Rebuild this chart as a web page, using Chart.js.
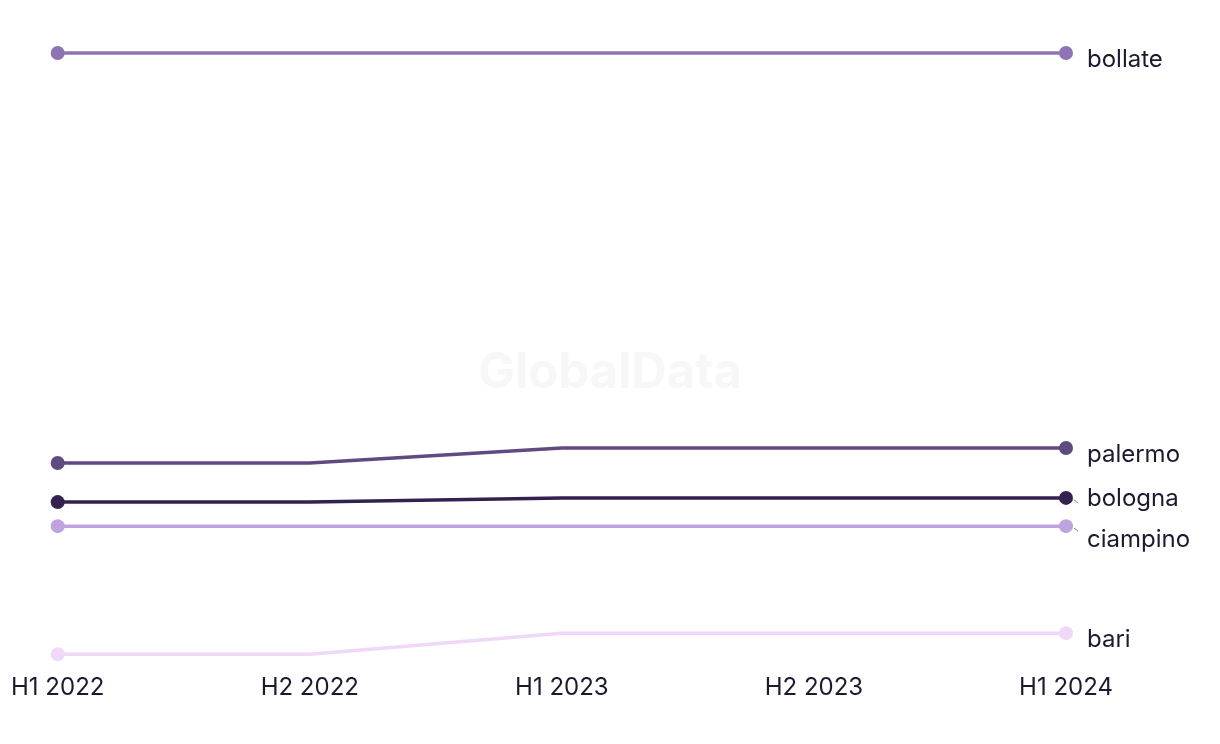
<!DOCTYPE html>
<html>
<head>
<meta charset="utf-8">
<script src="https://cdn.jsdelivr.net/npm/chart.js@4.4.0/dist/chart.umd.min.js"></script>
<style>
html,body{margin:0;padding:0;background:#fff;}
#wrap{width:1220px;height:744px;position:relative;}
</style>
</head>
<body>
<div id="wrap"><canvas id="c" width="1220" height="744"></canvas></div>
<script>
const categories = ["H1 2022", "H2 2022", "H1 2023", "H2 2023", "H1 2024"];
const seriesNames = ["bollate", "palermo", "bologna", "ciampino", "bari"];
const bollate  = [100, 100, 100, 100, 100];
const palermo  = [31.8, 31.8, 34.3, 34.3, 34.3];
const bologna  = [25.3, 25.3, 26.0, 26.0, 26.0];
const ciampino = [21.3, 21.3, 21.3, 21.3, 21.3];
const bari     = [0, 0, 3.5, 3.5, 3.5];
const seriesColors = ["#8f74b5", "#5f4a82", "#33224f", "#bfa3e0", "#f0d8f8"];

const allSeries = [bollate, palermo, bologna, ciampino, bari];
const FONT = "Inter, 'DejaVu Sans', sans-serif";
const TEXT = "#1b1a2e";

const watermark = {
  id: 'watermark',
  beforeDatasetsDraw(chart) {
    const ctx = chart.ctx;
    ctx.save();
    ctx.font = "bold 49px " + FONT;
    ctx.fillStyle = "#f7f7f7";
    ctx.textAlign = "center";
    ctx.textBaseline = "middle";
    ctx.fillText("GlobalData", 610, 373);
    ctx.restore();
  }
};

const endLabels = {
  id: 'endLabels',
  afterDatasetsDraw(chart) {
    const ctx = chart.ctx;
    const items = chart.data.datasets.map((ds, i) => {
      const meta = chart.getDatasetMeta(i);
      const p = meta.data[meta.data.length - 1];
      return { name: ds.label, px: p.x, py: p.y, y: p.y + 7 };
    }).sort((a, b) => a.py - b.py);
    const gap = 41;
    let groups = items.map(it => ({ members: [it], center: it.y }));
    let changed = true;
    while (changed) {
      changed = false;
      for (let i = 0; i < groups.length - 1; i++) {
        const a = groups[i], b = groups[i + 1];
        const aBottom = a.center + (a.members.length - 1) * gap / 2;
        const bTop = b.center - (b.members.length - 1) * gap / 2;
        if (bTop - aBottom < gap) {
          const members = a.members.concat(b.members);
          const center = members.reduce((s, m) => s + m.y, 0) / members.length;
          groups.splice(i, 2, { members, center });
          changed = true;
          break;
        }
      }
    }
    groups.forEach(g => {
      const n = g.members.length;
      g.members.forEach((m, k) => { m.ly = g.center + (k - (n - 1) / 2) * gap; });
    });
    ctx.save();
    ctx.font = "24px " + FONT;
    ctx.fillStyle = TEXT;
    ctx.textAlign = "left";
    ctx.textBaseline = "middle";
    items.forEach(m => {
      const lx = m.px + 21;
      const dy = m.ly - m.py;
      if (Math.abs(dy - 7) > 4) {
        ctx.strokeStyle = "#8c8c9a";
        ctx.lineWidth = 1;
        ctx.beginPath();
        ctx.moveTo(m.px + 8, m.py + (dy > 0 ? 2 : -2));
        ctx.lineTo(m.px + 12, m.py + (dy > 0 ? 5 : -5));
        ctx.stroke();
      }
      ctx.fillText(m.name, lx, m.ly);
    });
    ctx.restore();
  }
};

new Chart(document.getElementById('c'), {
  type: 'line',
  data: {
    labels: categories,
    datasets: allSeries.map((d, i) => ({
      label: seriesNames[i],
      data: d,
      borderColor: seriesColors[i],
      backgroundColor: seriesColors[i],
      borderWidth: 3.5,
      pointRadius: d.map((v, k) => (k === 0 || k === d.length - 1) ? 7 : 0),
      pointHoverRadius: 0,
      pointBorderWidth: 0,
      tension: 0,
      clip: false
    }))
  },
  options: {
    responsive: false,
    animation: false,
    events: [],
    layout: { padding: { left: 57, right: 154, top: 53, bottom: 31 } },
    plugins: { legend: { display: false }, tooltip: { enabled: false } },
    scales: {
      x: {
        offset: false,
        grid: { display: false },
        border: { display: false },
        ticks: { color: TEXT, font: { family: FONT, size: 24 }, padding: 11, maxRotation: 0, autoSkip: false }
      },
      y: {
        display: false,
        min: 0,
        max: 100
      }
    }
  },
  plugins: [watermark, endLabels]
});
</script>
</body>
</html>
